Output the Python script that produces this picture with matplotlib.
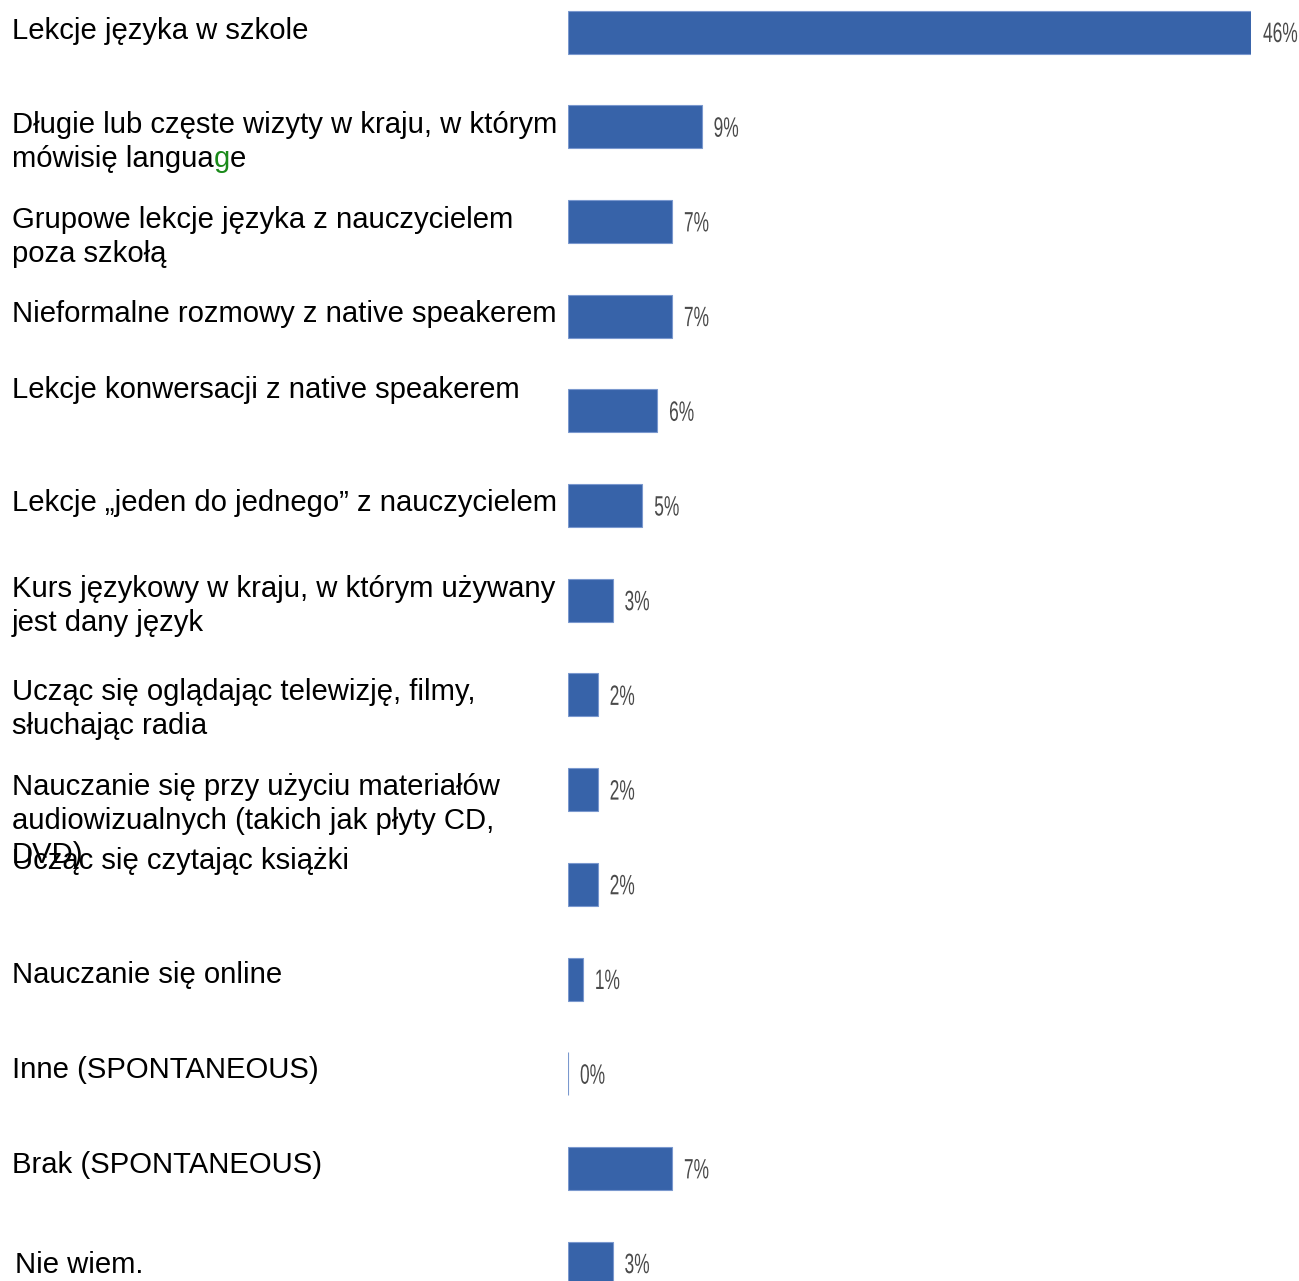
import matplotlib.pyplot as plt
import matplotlib.transforms as mtransforms
from matplotlib.font_manager import FontProperties
from matplotlib.patches import PathPatch
from matplotlib.textpath import TextPath

categories = [
    "Lekcje języka w szkole",
    "Długie lub częste wizyty w kraju, w którym\nmówisię language",
    "Grupowe lekcje języka z nauczycielem\npoza szkołą",
    "Nieformalne rozmowy z native speakerem",
    "Lekcje konwersacji z native speakerem",
    "Lekcje „jeden do jednego” z nauczycielem",
    "Kurs językowy w kraju, w którym używany\njest dany język",
    "Ucząc się oglądając telewizję, filmy,\nsłuchając radia",
    "Nauczanie się przy użyciu materiałów\naudiowizualnych (takich jak płyty CD,\nDVD)",
    "Ucząc się czytając książki",
    "Nauczanie się online",
    "Inne (SPONTANEOUS)",
    "Brak (SPONTANEOUS)",
    "Nie wiem.",
]
values = [46, 9, 7, 7, 6, 5, 3, 2, 2, 2, 1, 0, 7, 3]

# label anchor (x px, first-line center y px) for each category
label_pos = [(12, 31), (12, 125), (12, 220), (12, 314), (12, 390), (12, 503),
             (12, 589), (12, 692), (12, 787), (12, 861), (12, 975), (12, 1070),
             (12, 1165), (15, 1265)]

W, H = 1299, 1281
fig = plt.figure(figsize=(W / 100, H / 100), dpi=100)

x0, x1 = 568, 1251
top, step = 32, 94.7
ax = fig.add_axes([x0 / W, 0, (x1 - x0) / W, 1])
ax.set_xlim(0, 46)
ax.set_ylim((H - top) / step, -top / step)
ax.axis("off")

ypos = list(range(len(values)))
ax.barh(ypos, values, height=43 / step, color="#3763A9",
        edgecolor="#7A98CE", linewidth=0.8)

# value labels in a narrow face: horizontally squeezed text paths
vprop = FontProperties(family="Liberation Sans")
em = 28
for y, v in zip(ypos, values):
    tp = TextPath((0, 0), f"{v}%", size=em, prop=vprop)
    tr = (mtransforms.Affine2D().scale(0.62, 1).translate(12, -10)
          + mtransforms.ScaledTranslation(v, y, ax.transData))
    patch = PathPatch(tp, transform=tr, facecolor="#4a4a4a", edgecolor="none",
                      clip_on=False)
    fig.add_artist(patch)

line_h = 34
fs = 21.1
for (px, py), lab in zip(label_pos, categories):
    lines = lab.split("\n")
    for k, ln in enumerate(lines):
        yy = 1 - (py + k * line_h) / H
        if ln == "mówisię language":
            t = fig.text(px / W, yy, "mówisię langua", ha="left", va="center",
                         fontsize=fs, family="Liberation Sans", color="black")
            g = ax.annotate("g", xy=(1, 0), xycoords=t, ha="left", va="bottom",
                            fontsize=fs, family="Liberation Sans", color="#1A8A1A",
                            annotation_clip=False)
            ax.annotate("e", xy=(1, 0), xycoords=g, ha="left", va="bottom",
                        fontsize=fs, family="Liberation Sans", color="black",
                        annotation_clip=False)
            continue
        fig.text(px / W, yy, ln, ha="left", va="center", fontsize=fs,
                 family="Liberation Sans", color="black")

fig.savefig("out.png", dpi=100)
